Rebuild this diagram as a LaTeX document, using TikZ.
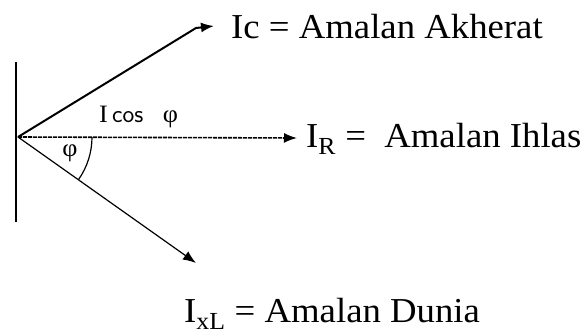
\documentclass[tikz,border=0pt]{standalone}
\usepackage{fontspec}
\setmainfont{Liberation Serif}[FakeStretch=1.05]
\usetikzlibrary{arrows.meta,calc}
\begin{document}
\begin{tikzpicture}[x=1pt,y=-1pt,
  vec/.style={line width=1.2pt,-{Latex[length=13pt,width=10pt]}},
  biglabel/.style={anchor=west,inner sep=0pt,font=\fontsize{35}{40}\selectfont},
  smalllabel/.style={inner sep=0pt,font=\fontsize{25}{28}\selectfont}]
\useasboundingbox (0,0) rectangle (581,334);
\coordinate (O) at (18,137);
\coordinate (wt) at (16,62);
\coordinate (wb) at (16,222);
\coordinate (ctip) at (214,26);
\coordinate (cbend) at (196,28);
\coordinate (rtip) at (297,138);
\coordinate (ltip) at (196,263);
\draw[line width=1.8pt] (wt) -- (wb);
\draw[vec,line width=2pt] (O) -- (cbend) -- (ctip);
\draw[vec,line width=1.6pt,dash pattern=on 4pt off 1pt] (O) -- (rtip);
\draw[vec,line width=1.2pt] (O) -- (ltip);
\draw[line width=1.2pt] ($(O)+(74,0)$) arc[start angle=0,end angle=35,radius=74];
\node[smalllabel] (phi) at (70,153) {φ};
\node[smalllabel,anchor=west] (icos) at (99,117) {I\,{\fontsize{25}{28}\selectfont\sffamily cos}\ \ \ φ};
\node[biglabel] (lc) at (231,27) {Ic = Amalan Akherat};
\node[biglabel] (lr) at (306,139) {I\textsubscript{R} =\ \ Amalan Ihlas};
\node[biglabel] (ll) at (184,314) {I\textsubscript{xL} = Amalan Dunia};
\end{tikzpicture}
\end{document}
